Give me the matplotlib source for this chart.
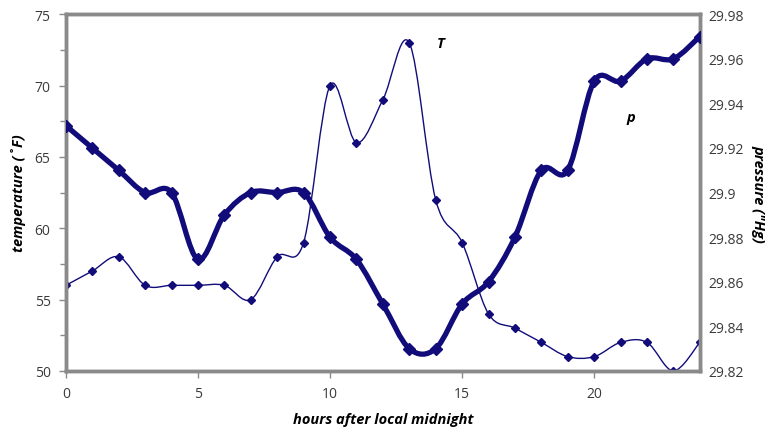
import matplotlib.pyplot as plt
import numpy as np
from matplotlib.path import Path
from matplotlib.patches import PathPatch
from matplotlib.ticker import MultipleLocator

plt.rcParams['font.family'] = ['Open Sans', 'DejaVu Sans']

hours = list(range(25))
temperature = [56, 57, 58, 56, 56, 56, 56, 55, 58, 59, 70, 66, 69, 73, 62, 59,
               54, 53, 52, 51, 51, 52, 52, 50, 52]
pressure = [29.93, 29.92, 29.91, 29.90, 29.90, 29.87, 29.89, 29.90, 29.90, 29.90,
            29.88, 29.87, 29.85, 29.83, 29.83, 29.85, 29.86, 29.88, 29.91, 29.91,
            29.95, 29.95, 29.96, 29.96, 29.97]

NAVY = '#110c7a'
GRAY = '#8a8a8a'


def smooth_path(x, y):
    # Excel-style smoothed line: cubic Bezier through each pair of points
    x = np.asarray(x, float)
    y = np.asarray(y, float)
    n = len(x)
    verts = [(x[0], y[0])]
    codes = [Path.MOVETO]
    for i in range(n - 1):
        i0 = max(i - 1, 0)
        i3 = min(i + 2, n - 1)
        c1 = (x[i] + (x[i + 1] - x[i0]) / 6, y[i] + (y[i + 1] - y[i0]) / 6)
        c2 = (x[i + 1] - (x[i3] - x[i]) / 6, y[i + 1] - (y[i3] - y[i]) / 6)
        verts += [c1, c2, (x[i + 1], y[i + 1])]
        codes += [Path.CURVE4] * 3
    return Path(verts, codes)


fig = plt.figure(figsize=(7.75, 4.35), dpi=100)
ax1 = fig.add_axes([0.085, 0.145, 0.818, 0.82])
ax2 = ax1.twinx()

ax1.add_patch(PathPatch(smooth_path(hours, temperature), fill=False,
                        edgecolor=NAVY, lw=1.0, zorder=2))
ax1.plot(hours, temperature, ls='none', marker='D', ms=4.5, color=NAVY, zorder=3)

ax2.add_patch(PathPatch(smooth_path(hours, pressure), fill=False,
                        edgecolor=NAVY, lw=3.8, zorder=2, capstyle='round',
                        joinstyle='round'))
ax2.plot(hours, pressure, ls='none', marker='D', ms=6.5, color=NAVY, zorder=3)

ax1.set_xlim(0, 24)
ax1.set_ylim(50, 75)
ax2.set_ylim(29.82, 29.98)

ax1.set_xticks([0, 5, 10, 15, 20])
ax1.yaxis.set_major_locator(MultipleLocator(5))
ax1.yaxis.set_minor_locator(MultipleLocator(2.5))
ax2.set_yticks(np.arange(29.82, 29.981, 0.02))
ax2.set_yticklabels(['29.82', '29.84', '29.86', '29.88', '29.9', '29.92',
                     '29.94', '29.96', '29.98'])

for ax in (ax1, ax2):
    for s in ax.spines.values():
        s.set_color(GRAY)
        s.set_linewidth(2.5)
ax1.tick_params(axis='both', which='major', color=GRAY, width=1, length=5,
                labelsize=10, labelcolor='#3a3a3a', pad=6)
ax1.tick_params(axis='y', which='minor', color=GRAY, width=1, length=4)
ax2.tick_params(axis='y', length=0, labelsize=10, labelcolor='#3a3a3a', pad=6)

ax1.set_xlabel('hours after local midnight', fontsize=10.5, fontweight='bold',
               style='italic', labelpad=8)
ax1.set_ylabel('temperature (˚F)', fontsize=10.5, fontweight='bold', style='italic',
               labelpad=6)
ax2.set_ylabel('pressure (″Hg)', fontsize=10.5, fontweight='bold', style='italic',
               rotation=270, labelpad=16)

ax1.text(14.2, 73.0, 'T', fontsize=10.5, fontweight='bold', style='italic',
         ha='center', va='center')
ax2.text(21.4, 29.934, 'p', fontsize=10.5, fontweight='bold', style='italic',
         ha='center', va='center')

fig.savefig('out.png', dpi=100)
